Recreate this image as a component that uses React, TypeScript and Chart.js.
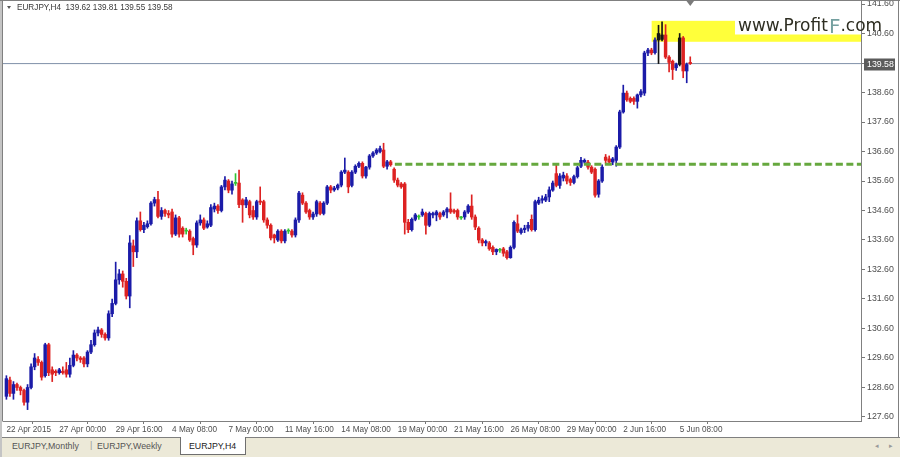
import React, { useEffect, useRef } from 'react';
import { Chart, registerables } from 'chart.js';

Chart.register(...registerables);

// ---------- data (EURJPY, H4) ----------
const symbolName = 'EURJPY,H4';

const opens = [
  128.30,128.85,128.40,128.70,128.60,128.50,128.10,128.60,129.30,129.55,
  129.45,129.00,130.05,129.20,129.15,129.10,129.15,129.20,129.05,129.35,
  129.70,129.60,129.60,129.40,129.80,130.05,130.45,130.55,130.40,130.28,
  131.10,131.45,132.25,132.45,132.20,131.70,133.40,133.20,134.25,133.95,
  134.05,134.15,134.85,134.97,134.40,134.60,134.50,134.55,133.80,134.35,
  134.00,133.90,133.90,133.65,133.43,134.18,134.28,134.04,134.10,134.65,
  134.75,134.60,135.40,135.60,135.29,135.52,135.53,134.96,134.79,134.90,
  134.60,134.38,134.92,134.90,134.28,134.10,133.77,133.60,133.90,133.57,
  133.90,133.90,133.77,134.28,135.12,134.85,134.60,134.38,134.48,134.85,
  134.50,134.85,135.40,135.30,135.36,135.46,135.90,135.90,135.45,135.90,
  136.10,136.20,135.77,136.07,136.45,136.55,136.60,136.65,136.10,136.25,
  136.00,135.63,135.50,135.50,134.20,133.95,134.30,134.38,134.45,134.50,
  134.10,134.45,134.45,134.50,134.45,134.55,134.65,134.60,134.60,134.35,
  134.38,134.55,134.75,134.38,134.00,133.60,133.50,133.50,133.35,133.20,
  133.25,133.30,133.20,133.00,133.35,134.15,133.85,133.95,134.00,134.30,
  133.95,134.85,134.95,134.95,135.06,135.29,135.85,135.45,135.70,135.77,
  135.65,135.55,135.75,136.10,136.24,136.24,136.07,136.00,135.15,135.60,
  136.41,136.35,136.24,136.30,136.75,137.94,138.58,138.40,138.40,138.30,
  138.52,138.58,139.94,140.04,139.95,140.38,140.40,140.55,139.80,139.66,
  139.44,139.55,140.45,139.33,139.62,
];

const highs = [
  129.00,128.95,128.80,128.75,128.65,128.55,128.70,129.40,129.75,129.65,
  129.50,130.10,130.10,129.30,129.20,129.25,129.30,129.45,129.60,129.85,
  129.75,129.65,129.65,129.85,130.20,130.55,130.65,130.60,130.45,131.20,
  131.60,132.85,132.60,132.55,132.30,133.75,133.60,134.35,134.55,134.20,
  134.25,134.90,135.05,135.25,134.70,134.65,134.60,134.65,134.45,134.40,
  134.05,134.00,133.95,133.70,134.25,134.45,134.35,134.25,134.80,134.85,
  134.80,135.45,135.75,135.65,135.60,135.85,135.97,135.00,135.05,134.95,
  134.75,134.95,135.40,134.95,134.35,134.15,133.80,133.95,133.95,133.95,
  133.98,133.95,134.35,135.25,135.20,134.90,134.65,134.55,134.95,134.90,
  134.90,135.45,135.45,135.42,135.50,135.95,136.38,135.95,135.95,136.15,
  136.25,136.25,136.10,136.50,136.60,136.70,136.78,136.88,136.30,136.30,
  136.05,135.70,135.55,135.55,134.30,134.35,134.50,134.45,134.65,134.55,
  134.55,134.55,134.60,134.55,134.60,134.70,135.20,134.65,134.65,134.40,
  134.60,134.80,135.13,134.45,134.05,133.65,133.60,133.55,133.40,133.30,
  133.32,133.35,133.25,133.40,134.25,134.45,134.00,134.10,134.20,134.45,
  134.95,135.05,135.10,135.15,135.40,135.60,136.20,135.85,135.90,135.85,
  135.70,135.80,136.10,136.40,136.35,136.30,136.12,136.05,135.65,136.15,
  136.50,136.45,136.40,136.80,138.00,138.85,138.65,138.45,138.45,138.55,
  138.70,140.00,140.10,140.10,140.45,140.88,141.00,140.90,139.85,139.70,
  139.60,140.60,140.50,139.60,139.81,
];

const lows = [
  128.20,128.30,128.20,128.50,128.35,128.00,127.85,128.55,129.20,129.35,
  128.85,128.95,129.00,128.80,129.00,129.05,129.05,128.95,128.95,129.30,
  129.50,129.45,129.30,129.30,129.75,130.00,130.35,130.30,130.20,130.20,
  131.00,131.40,132.10,132.00,131.60,131.30,132.70,133.00,133.90,133.85,
  134.00,134.10,134.75,134.35,134.30,134.40,134.35,133.70,133.75,133.70,
  133.70,133.80,133.55,133.10,133.35,134.10,133.95,134.00,134.05,134.55,
  134.50,134.55,135.30,135.20,135.15,135.45,134.70,134.20,134.70,134.35,
  134.30,134.30,134.80,134.20,134.00,133.60,133.50,133.55,133.50,133.50,
  133.82,133.70,133.70,134.20,134.80,134.50,134.30,134.30,134.40,134.45,
  134.45,134.80,135.20,135.25,135.30,135.40,135.85,135.20,135.40,135.85,
  136.05,135.70,135.70,136.00,136.40,136.50,136.55,136.05,136.00,136.10,
  135.55,135.40,135.35,133.80,133.85,133.90,134.25,134.30,134.40,133.80,
  134.05,134.35,134.25,134.30,134.40,134.35,134.50,134.50,134.30,134.30,
  134.30,134.50,134.30,133.95,133.50,133.40,133.40,133.25,133.10,133.10,
  133.18,133.05,132.95,132.98,133.30,133.85,133.80,133.85,133.90,133.90,
  133.90,134.80,134.85,134.90,134.90,135.25,135.40,135.35,135.60,135.50,
  135.45,135.50,135.70,136.05,136.20,136.00,135.85,135.05,135.05,135.55,
  136.20,136.20,136.15,136.10,136.70,137.90,138.30,138.25,138.20,138.07,
  138.45,138.50,139.85,139.88,139.90,139.58,140.35,139.75,139.30,139.04,
  139.35,139.50,139.10,138.93,139.55,
];

const closes = [
  128.90,128.40,128.70,128.60,128.50,128.10,128.60,129.30,129.60,129.45,
  128.95,130.05,129.10,129.05,129.10,129.20,129.10,129.05,129.35,129.70,
  129.60,129.55,129.40,129.80,130.05,130.45,130.55,130.40,130.28,131.10,
  131.45,132.25,132.45,132.20,131.70,133.50,133.20,134.25,133.95,134.10,
  134.15,134.85,134.97,134.40,134.60,134.50,134.45,133.80,134.35,133.80,
  133.80,133.90,133.60,133.43,134.18,134.28,134.00,134.15,134.70,134.75,
  134.60,135.40,135.63,135.29,135.50,135.52,134.80,134.79,134.96,134.45,
  134.38,134.90,134.88,134.28,134.10,133.67,133.67,133.90,133.57,133.90,
  133.90,133.77,134.28,135.19,134.85,134.55,134.38,134.48,134.90,134.50,
  134.85,135.40,135.29,135.36,135.46,135.90,135.97,135.40,135.90,136.10,
  136.20,135.77,136.07,136.45,136.55,136.65,136.70,136.10,136.25,136.15,
  135.63,135.46,135.40,134.20,133.95,134.30,134.45,134.38,134.55,134.10,
  134.50,134.50,134.55,134.38,134.55,134.65,134.55,134.55,134.38,134.35,
  134.55,134.75,134.38,134.04,133.60,133.50,133.55,133.30,133.20,133.28,
  133.25,133.15,133.00,133.35,134.20,133.90,133.95,134.00,134.10,133.95,
  134.90,134.95,135.00,135.06,135.30,135.53,135.45,135.77,135.80,135.60,
  135.55,135.75,136.05,136.30,136.30,136.07,135.90,135.12,135.60,136.07,
  136.30,136.24,136.35,136.75,137.94,138.58,138.35,138.30,138.30,138.52,
  138.63,139.94,140.04,139.94,140.38,140.60,140.55,139.80,139.62,139.38,
  139.55,140.45,139.33,139.55,139.58,
];

const xTickIndices = [0, 15, 31, 47, 63, 79, 95, 111, 127, 143, 159, 175, 191];
const xTickLabels = [
  '22 Apr 2015', '27 Apr 00:00', '29 Apr 16:00', '4 May 08:00', '7 May 00:00',
  '11 May 16:00', '14 May 08:00', '19 May 00:00', '21 May 16:00', '26 May 08:00',
  '29 May 00:00', '2 Jun 16:00', '5 Jun 08:00',
];
const priceTicks = [127.6, 128.6, 129.6, 130.6, 131.6, 132.6, 133.6, 134.6, 135.6, 136.6, 137.6, 138.6, 139.6, 140.6, 141.6];

const supportLevel = 136.17;
const supportStartIndex = 110.2;
const zoneLow = 140.32;
const zoneHigh = 141.03;
const zoneStartIndex = 183.05;
const tabNames = ['EURJPY,Monthly', 'EURJPY,Weekly', 'EURJPY,H4'];

// ---------- view ranges ----------
const X_MIN = -0.965;
const X_MAX = 242.44;
const Y_MIN = 127.464;
const Y_MAX = 141.736;

const BULL = '#1b1ba8';
const BULL_ZONE = '#141414';
const BEAR = '#dd2222';
const DOJI = '#33c433';
const FONT = '"Liberation Sans", Arial, sans-serif';

function candleColor(i: number) {
  if (closes[i] > opens[i]) return closes[i] > zoneLow + 0.1 ? BULL_ZONE : BULL;
  if (closes[i] < opens[i]) return BEAR;
  return DOJI;
}

const lastIdx = closes.length - 1;
const currentPrice = closes[lastIdx];

const decorPlugin = {
  id: 'decor',
  beforeDatasetsDraw(chart: any) {
    const { ctx, chartArea, scales } = chart;
    const xs = scales.x;
    const ys = scales.y;
    const x0 = xs.getPixelForValue(zoneStartIndex);
    const yTop = ys.getPixelForValue(zoneHigh);
    const yBot = ys.getPixelForValue(zoneLow);
    ctx.save();
    ctx.fillStyle = '#ffff3a';
    ctx.fillRect(x0, yTop, chartArea.right - x0, yBot - yTop);
    // white backing of the watermark
    ctx.fillStyle = '#ffffff';
    ctx.fillRect(735, 12, chartArea.right - 735, 22.5);
    ctx.restore();
  },
  afterDraw(chart: any) {
    const { ctx, chartArea, scales, width, height } = chart;
    const xs = scales.x;
    const ys = scales.y;
    ctx.save();
    // frame
    ctx.fillStyle = '#c4c4c4';
    ctx.fillRect(0, 0, 2, height);
    ctx.strokeStyle = '#808080';
    ctx.lineWidth = 1;
    ctx.beginPath();
    ctx.moveTo(2.5, 0); ctx.lineTo(2.5, chartArea.bottom + 0.5);
    ctx.moveTo(0, 0.5); ctx.lineTo(width, 0.5);
    ctx.moveTo(898.5, 0); ctx.lineTo(898.5, height);
    ctx.stroke();

    // watermark
    ctx.textBaseline = 'alphabetic';
    let tx = 738;
    const by = 31;
    ctx.font = '17px "DejaVu Sans", sans-serif';
    ctx.fillStyle = '#2e2e22';
    ctx.fillText('www.Profit', tx, by);
    tx += ctx.measureText('www.Profit').width + 1;
    ctx.font = '20px "DejaVu Sans", sans-serif';
    ctx.fillStyle = '#74a0a0';
    ctx.fillText('F', tx, by + 2);
    tx += ctx.measureText('F').width;
    ctx.font = '17px "DejaVu Sans", sans-serif';
    ctx.fillStyle = '#2e2e22';
    ctx.fillText('.com', tx, by);

    // current price box
    const py = ys.getPixelForValue(currentPrice);
    ctx.fillStyle = '#5b5b5b';
    ctx.fillRect(chartArea.right + 3, Math.round(py) - 5.5, 31, 12);
    ctx.fillStyle = '#ffffff';
    ctx.font = '8.8px ' + FONT;
    ctx.textBaseline = 'middle';
    ctx.textAlign = 'left';
    ctx.fillText(currentPrice.toFixed(2), chartArea.right + 6, Math.round(py) + 0.5);

    // shift marker at last bar
    const lx = xs.getPixelForValue(lastIdx);
    ctx.fillStyle = '#7a7a7a';
    ctx.beginPath();
    ctx.moveTo(lx - 4.5, 0); ctx.lineTo(lx + 4.5, 0); ctx.lineTo(lx, 6);
    ctx.closePath();
    ctx.fill();
    ctx.restore();
  },
};

export default function App() {
  const ref = useRef<HTMLCanvasElement>(null);

  useEffect(() => {
    document.body.style.margin = '0';
    const canvas = ref.current;
    if (!canvas) return;
    const idx = closes.map((_, i) => i);
    const colors = idx.map(candleColor);
    const chart = new Chart(canvas, {
      type: 'bar',
      data: {
        datasets: [
          {
            type: 'line',
            label: 'price',
            data: [{ x: X_MIN, y: currentPrice }, { x: X_MAX, y: currentPrice }],
            borderColor: '#7f90a8',
            borderWidth: 1,
            pointRadius: 0,
            order: 4,
          } as any,
          {
            label: 'wicks',
            data: idx.map((i) => ({ x: i, y: [lows[i], highs[i]] })),
            backgroundColor: colors,
            barThickness: 1,
            borderWidth: 0,
            grouped: false,
            order: 3,
          } as any,
          {
            label: 'bodies',
            data: idx.map((i) => ({ x: i, y: [opens[i], closes[i]] })),
            backgroundColor: colors,
            barThickness: 2.8,
            minBarLength: 1,
            borderWidth: 0,
            grouped: false,
            order: 2,
          } as any,
          {
            type: 'line',
            label: 'support',
            data: [{ x: supportStartIndex, y: supportLevel }, { x: X_MAX, y: supportLevel }],
            borderColor: '#66a83e',
            borderWidth: 3,
            borderDash: [7, 3.5],
            pointRadius: 0,
            order: 1,
          } as any,
        ],
      },
      options: {
        responsive: false,
        animation: false,
        devicePixelRatio: 1,
        events: [],
        layout: { padding: { left: 3, right: 0, top: 0, bottom: 0 } },
        plugins: { legend: { display: false }, tooltip: { enabled: false } },
        scales: {
          x: {
            type: 'linear',
            min: X_MIN,
            max: X_MAX,
            bounds: 'data',
            offset: false,
            grid: { drawOnChartArea: false, drawTicks: true, tickLength: 3, tickColor: '#777777' },
            border: { display: true, color: '#808080' },
            ticks: {
              autoSkip: false,
              maxRotation: 0,
              minRotation: 0,
              align: 'start',
              padding: 1,
              color: '#4e4e4e',
              font: { family: FONT, size: 8.2 },
              callback: (_v: any, i: number) => xTickLabels[i] ?? '',
            },
            afterBuildTicks: (s: any) => {
              s.ticks = xTickIndices.map((v) => ({ value: v }));
            },
            afterFit: (s: any) => {
              s.height = 16;
              s.paddingLeft = 0;
              s.paddingRight = 0;
            },
          },
          y: {
            type: 'linear',
            position: 'right',
            min: Y_MIN,
            max: Y_MAX,
            bounds: 'data',
            grid: { drawOnChartArea: false, drawTicks: true, tickLength: 4, tickColor: '#777777' },
            border: { display: true, color: '#808080' },
            ticks: {
              autoSkip: false,
              padding: 2,
              color: '#4e4e4e',
              font: { family: FONT, size: 8.8 },
              callback: (v: any) => Number(v).toFixed(2),
            },
            afterBuildTicks: (s: any) => {
              s.ticks = priceTicks.map((v) => ({ value: v }));
            },
            afterFit: (s: any) => {
              s.width = 39;
              s.paddingTop = 0;
              s.paddingBottom = 0;
            },
          },
        },
      } as any,
      plugins: [decorPlugin],
    });
    return () => chart.destroy();
  }, []);

  const header = `${symbolName}  ${opens[lastIdx].toFixed(2)} ${highs[lastIdx].toFixed(2)} ${lows[lastIdx].toFixed(2)} ${closes[lastIdx].toFixed(2)}`;

  return (
    <div
      style={{
        position: 'fixed',
        left: 0,
        top: 0,
        width: 900,
        height: 457,
        background: '#ffffff',
        overflow: 'hidden',
        fontFamily: FONT,
      }}
    >
      <canvas ref={ref} width={900} height={437} style={{ position: 'absolute', left: 0, top: 0, width: 900, height: 437 }} />
      <div
        style={{
          position: 'absolute',
          left: 7,
          top: 6,
          width: 0,
          height: 0,
          borderLeft: '2.5px solid transparent',
          borderRight: '2.5px solid transparent',
          borderTop: '3.5px solid #555',
        }}
      />
      <div
        style={{
          position: 'absolute',
          left: 17,
          top: 2,
          fontSize: 8.2,
          lineHeight: '11px',
          color: '#3a3a3a',
          whiteSpace: 'pre',
        }}
      >
        {header}
      </div>
      <div
        style={{
          position: 'absolute',
          left: 0,
          top: 437,
          width: 900,
          height: 20,
          background: '#ece9d8',
          borderTop: '1px solid #7f7f7f',
          boxSizing: 'border-box',
        }}
      >
        <div style={{ position: 'absolute', left: 0, top: -1, width: 2, height: 21, background: '#c4c4c4' }} />
        <span style={{ position: 'absolute', left: 12, top: 3, fontSize: 8.8, color: '#555', whiteSpace: 'pre' }}>{tabNames[0]}</span>
        <span style={{ position: 'absolute', left: 90, top: 2, fontSize: 9, color: '#999' }}>|</span>
        <span style={{ position: 'absolute', left: 97, top: 3, fontSize: 8.8, color: '#555', whiteSpace: 'pre' }}>{tabNames[1]}</span>
        <div
          style={{
            position: 'absolute',
            left: 180,
            top: -1,
            width: 66,
            height: 18,
            background: '#ffffff',
            borderLeft: '1px solid #6f6f6f',
            borderRight: '1px solid #6f6f6f',
            borderBottom: '1px solid #6f6f6f',
            boxSizing: 'border-box',
          }}
        >
          <span style={{ position: 'absolute', left: 8, top: 4, fontSize: 8.8, color: '#222', whiteSpace: 'pre' }}>{tabNames[2]}</span>
        </div>
        <span style={{ position: 'absolute', left: 875, top: 4, fontSize: 7, color: '#999' }}>◂</span>
        <span style={{ position: 'absolute', left: 889, top: 4, fontSize: 7, color: '#999' }}>▸</span>
      </div>
    </div>
  );
}
